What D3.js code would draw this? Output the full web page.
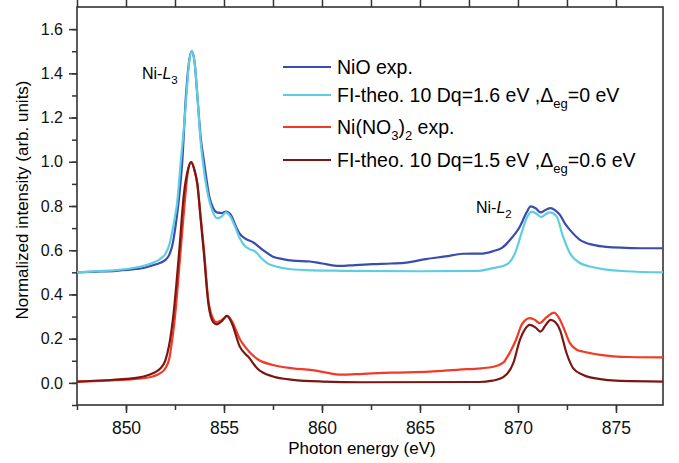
<!DOCTYPE html>
<html>
<head>
<meta charset="utf-8">
<script src="https://cdn.jsdelivr.net/npm/d3@7"></script>
<style>
  body { margin: 0; background: #fff; }
  svg, svg text { font-family: "Liberation Sans", Arial, Helvetica, sans-serif; }
  .axis path, .axis line { stroke: #333; stroke-width: 1.5px; }
  .axis text { fill: #111; }
</style>
</head>
<body>
<svg id="chart" width="679" height="463"></svg>
<script>
// [photon energy (eV), normalized intensity]
const nioExp = [
  [847.5, 0.500], [848.5, 0.503], [849.5, 0.507], [850.5, 0.515], [851.0, 0.522],
  [851.5, 0.535], [852.0, 0.555], [852.2, 0.578], [852.36, 0.62], [852.59, 0.75],
  [852.71, 0.84], [852.87, 1.00], [853.06, 1.30], [853.2, 1.44], [853.35, 1.50],
  [853.5, 1.45], [853.64, 1.30], [853.8, 1.12], [853.99, 0.995], [854.25, 0.843],
  [854.45, 0.79], [854.63, 0.771], [854.9, 0.768], [855.1, 0.775], [855.35, 0.76],
  [855.6, 0.71], [855.8, 0.675], [856.1, 0.652], [856.5, 0.635], [857.0, 0.60],
  [857.5, 0.571], [858.0, 0.56], [858.5, 0.553], [859.4, 0.549], [860.0, 0.54],
  [860.9, 0.529], [861.7, 0.533], [862.6, 0.537], [863.5, 0.540], [864.3, 0.544],
  [865.3, 0.56], [866.3, 0.572], [867.2, 0.584], [868.2, 0.585], [868.74, 0.596],
  [869.2, 0.612], [869.6, 0.647], [870.1, 0.707], [870.44, 0.771], [870.65, 0.798],
  [870.9, 0.79], [871.16, 0.771], [871.4, 0.782], [871.67, 0.79], [871.9, 0.78],
  [872.14, 0.76], [872.4, 0.72], [872.65, 0.692], [873.16, 0.647], [873.84, 0.624],
  [874.5, 0.615], [875.5, 0.611], [876.5, 0.609], [877.4, 0.609]
];

const nioTheo = [
  [847.5, 0.500], [848.5, 0.505], [849.5, 0.510], [850.5, 0.522], [851.0, 0.532],
  [851.5, 0.548], [851.73, 0.560], [852.0, 0.582], [852.21, 0.625], [852.5, 0.752],
  [852.59, 0.80], [852.79, 0.995], [852.9, 1.10], [853.0, 1.20], [853.1, 1.32],
  [853.2, 1.43], [853.35, 1.50], [853.5, 1.45], [853.64, 1.30], [853.8, 1.10],
  [853.95, 0.98], [854.2, 0.843], [854.4, 0.78], [854.63, 0.745], [854.85, 0.75],
  [855.1, 0.771], [855.3, 0.755], [855.55, 0.71], [855.8, 0.655], [856.05, 0.62],
  [856.3, 0.605], [856.6, 0.594], [856.9, 0.565], [857.2, 0.542], [857.7, 0.525],
  [858.4, 0.514], [859.5, 0.509], [861.0, 0.507], [865.0, 0.505], [868.0, 0.507],
  [868.74, 0.519], [869.4, 0.534], [869.85, 0.587], [870.18, 0.677], [870.44, 0.745],
  [870.7, 0.775], [870.95, 0.765], [871.18, 0.75], [871.4, 0.762], [871.63, 0.771],
  [871.97, 0.753], [872.3, 0.662], [872.65, 0.587], [873.16, 0.542], [873.84, 0.523],
  [874.5, 0.512], [875.5, 0.505], [877.4, 0.500]
];

const nitrateExp = [
  [847.5, 0.006], [849.0, 0.010], [850.0, 0.015], [850.9, 0.021], [851.4, 0.030],
  [851.75, 0.044], [852.0, 0.065], [852.21, 0.110], [852.35, 0.19], [852.5, 0.30],
  [852.79, 0.60], [853.0, 0.82], [853.15, 0.95], [853.32, 0.998], [853.5, 0.96],
  [853.64, 0.90], [853.8, 0.76], [853.98, 0.60], [854.2, 0.375], [854.4, 0.30],
  [854.63, 0.275], [854.9, 0.285], [855.17, 0.303], [855.4, 0.28], [855.8, 0.20],
  [856.3, 0.14], [856.7, 0.108], [857.5, 0.081], [858.5, 0.066], [859.5, 0.058],
  [860.3, 0.045], [860.9, 0.037], [862.1, 0.041], [863.5, 0.046], [865.5, 0.051],
  [867.0, 0.060], [868.1, 0.066], [868.74, 0.073], [869.25, 0.092], [869.6, 0.140],
  [869.9, 0.195], [870.2, 0.265], [870.6, 0.293], [870.87, 0.285], [871.1, 0.27],
  [871.46, 0.297], [871.84, 0.318], [872.1, 0.293], [872.3, 0.255], [872.65, 0.18],
  [873.0, 0.15], [873.3, 0.142], [874.2, 0.127], [875.7, 0.117], [877.4, 0.115]
];

const nitrateTheo = [
  [847.5, 0.006], [849.0, 0.012], [850.0, 0.018], [850.9, 0.029], [851.4, 0.045],
  [851.75, 0.065], [852.0, 0.100], [852.2, 0.17], [852.41, 0.30], [852.72, 0.60],
  [852.95, 0.85], [853.15, 0.96], [853.32, 0.998], [853.5, 0.96], [853.64, 0.90],
  [853.8, 0.75], [853.98, 0.58], [854.2, 0.36], [854.45, 0.275], [854.63, 0.265],
  [854.9, 0.28], [855.15, 0.303], [855.4, 0.27], [855.8, 0.165], [856.3, 0.112],
  [856.7, 0.065], [857.5, 0.029], [858.5, 0.014], [860.05, 0.006], [862.0, 0.003],
  [868.0, 0.004], [868.7, 0.010], [869.25, 0.026], [869.76, 0.089], [870.1, 0.195],
  [870.36, 0.243], [870.6, 0.262], [870.9, 0.25], [871.16, 0.232], [871.4, 0.26],
  [871.67, 0.285], [871.9, 0.275], [872.14, 0.24], [872.48, 0.134], [872.82, 0.066],
  [873.33, 0.036], [874.2, 0.017], [875.0, 0.010], [877.4, 0.006]
];

const series = [
  { name: "nioExp", data: nioExp, color: "#3a4cae" },
  { name: "nioTheo", data: nioTheo, color: "#5fcde0" },
  { name: "nitrateExp", data: nitrateExp, color: "#f23a26" },
  { name: "nitrateTheo", data: nitrateTheo, color: "#7a1712" }
];

const xTicks = [850, 855, 860, 865, 870, 875];
const yTicks = [0.0, 0.2, 0.4, 0.6, 0.8, 1.0, 1.2, 1.4, 1.6];

const svg = d3.select("#chart");
const plot = { left: 77, right: 663, top: 7, bottom: 405 };
const fontFamily = '"Liberation Sans", Arial, Helvetica, sans-serif';

const x = d3.scaleLinear().domain([847.5, 877.4]).range([plot.left, plot.right]);
const y = d3.scaleLinear().domain([-0.1, 1.7]).range([plot.bottom, plot.top]);

// minor ticks
const xMinor = d3.range(847.5, 877.5, 2.5);
const yMinor = d3.range(-0.1, 1.7, 0.1).map(v => +v.toFixed(1));

svg.append("g").attr("class", "axis")
  .attr("transform", `translate(0,${plot.bottom})`)
  .call(d3.axisBottom(x).tickValues(xMinor).tickSize(5).tickFormat(""))
  .call(g => g.select(".domain").remove());
svg.append("g").attr("class", "axis")
  .attr("transform", `translate(${plot.left},0)`)
  .call(d3.axisLeft(y).tickValues(yMinor).tickSize(5).tickFormat(""))
  .call(g => g.select(".domain").remove());
svg.append("g").attr("class", "axis")
  .attr("transform", `translate(0,${plot.top})`)
  .call(d3.axisTop(x).tickValues(xMinor).tickSize(7).tickFormat(""))
  .call(g => g.select(".domain").remove());

// major ticks
const xAxis = svg.append("g").attr("class", "axis")
  .attr("transform", `translate(0,${plot.bottom})`)
  .attr("font-family", fontFamily)
  .call(d3.axisBottom(x).tickValues(xTicks).tickSize(8).tickPadding(9).tickFormat(d3.format("d")));
xAxis.select(".domain").remove();
xAxis.selectAll("text").style("font-size", "17.5px");

const yAxis = svg.append("g").attr("class", "axis")
  .attr("transform", `translate(${plot.left},0)`)
  .attr("font-family", fontFamily)
  .call(d3.axisLeft(y).tickValues(yTicks).tickSize(8).tickPadding(6).tickFormat(d3.format(".1f")));
yAxis.select(".domain").remove();
yAxis.selectAll("text").style("font-size", "16px");

// frame
svg.append("rect")
  .attr("x", plot.left).attr("y", plot.top)
  .attr("width", plot.right - plot.left).attr("height", plot.bottom - plot.top)
  .attr("fill", "none").attr("stroke", "#333").attr("stroke-width", 1.6);

// curves
const line = d3.line()
  .x(d => x(d[0]))
  .y(d => y(d[1]))
  .curve(d3.curveMonotoneX);

series.forEach(s => {
  svg.append("path")
    .datum(s.data)
    .attr("fill", "none")
    .attr("stroke", s.color)
    .attr("stroke-width", 2.2)
    .attr("stroke-linejoin", "round")
    .attr("d", line);
});

// axis titles
svg.append("text")
  .attr("x", 362).attr("y", 454)
  .attr("text-anchor", "middle")
  .style("font-size", "17px")
  .text("Photon energy (eV)");

svg.append("text")
  .attr("transform", "translate(28,200) rotate(-90)")
  .attr("text-anchor", "middle")
  .style("font-size", "17px")
  .text("Normalized intensity (arb. units)");

// peak labels
function edgeLabel(px, py, sub) {
  const t = svg.append("text").attr("x", px).attr("y", py).style("font-size", "16px");
  t.append("tspan").text("Ni-");
  t.append("tspan").style("font-style", "italic").text("L");
  t.append("tspan").attr("dy", 5).style("font-size", "11.5px").text(sub);
}
edgeLabel(142, 78.5, "3");
edgeLabel(476, 212.5, "2");

// legend
const legendRows = [
  { y: 67, color: series[0].color, parts: [["NiO exp.", 0]] },
  { y: 95, color: series[1].color, parts: [["FI-theo. 10 Dq=1.6 eV ,\u0394", 0], ["eg", 1], ["=0 eV", 0]] },
  { y: 127, color: series[2].color, parts: [["Ni(NO", 0], ["3", 1], [")", 0], ["2", 1], [" exp.", 0]] },
  { y: 160, color: series[3].color, parts: [["FI-theo. 10 Dq=1.5 eV ,\u0394", 0], ["eg", 1], ["=0.6 eV", 0]] }
];

const legend = svg.append("g");
legendRows.forEach(r => {
  legend.append("line")
    .attr("x1", 283).attr("x2", 331)
    .attr("y1", r.y).attr("y2", r.y)
    .attr("stroke", r.color).attr("stroke-width", 2.2);
  const t = legend.append("text")
    .attr("x", 337).attr("y", r.y + 7)
    .style("font-size", "19.5px");
  let down = false;
  r.parts.forEach(([str, isSub]) => {
    const ts = t.append("tspan").text(str);
    if (isSub && !down) { ts.attr("dy", 6).style("font-size", "13px"); down = true; }
    else if (!isSub && down) { ts.attr("dy", -6); down = false; }
    else if (isSub) ts.style("font-size", "13px");
  });
});
</script>
</body>
</html>
